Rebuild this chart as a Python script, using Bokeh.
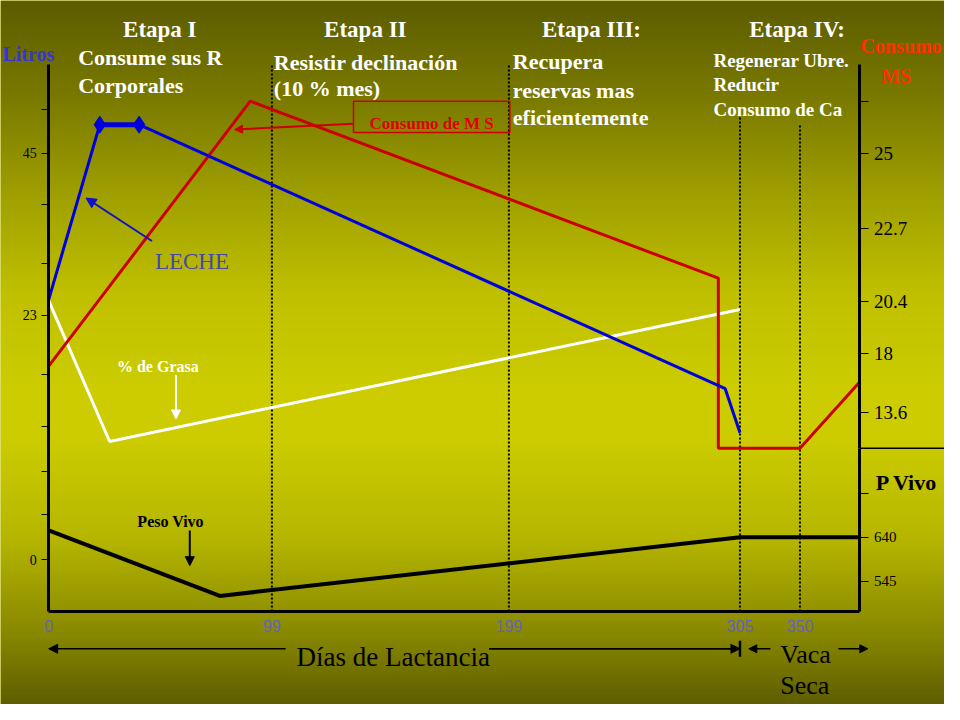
import numpy as np
from bokeh.plotting import figure
from bokeh.models import (Range1d, LinearAxis, FixedTicker, Label, Arrow,
                          NormalHead, TeeHead, BoxAnnotation)
from bokeh.embed import file_html
from bokeh.resources import INLINE

# ---------------- data (schematic units: x along lactation, y above day axis) ----
x_tick_pos = [0, 227, 468, 703, 764]
x_tick_labels = ["0", "99", "199", "305", "350"]

litros_tick_pos = [514, 469, 416, 356, 303, 242, 189, 143, 99, 53]
litros_tick_labels = ["", "45", "", "", "23", "", "", "", "", "0"]

ms_tick_pos = [522, 469, 392, 317, 264, 204]
ms_tick_labels = ["", "25", "22.7", "20.4", "18", "13.6"]

pv_tick_pos = [121, 76, 31]
pv_tick_labels = ["", "640", "545"]

leche_x = [0, 52, 92, 688, 703]
leche_y = [319, 498, 498, 228, 183]
pico_x = [52, 92]
pico_y = [498, 498]

ms_x = [0, 205, 681, 681, 764, 825]
ms_y = [251, 522, 341, 167, 167, 235]

grasa_x = [0, 62, 703]
grasa_y = [318, 174, 309]

pv_x = [0, 174, 703, 825]
pv_y = [83, 16, 76, 76]

etapa_x = [227, 468, 703, 764]
etapa_top = [560, 560, 507, 499]

X_END = 825
Y_TOP = 560
PV_SPLIT = 167

SERIF = "Liberation Serif"
WHITE = "#ffffff"

# ---------------- figure ----------------
W, H = 944, 704
X0, X1 = -49, 911
Y0, Y1 = -95, 625
p = figure(width=W, height=H, x_range=Range1d(X0, X1), y_range=Range1d(Y0, Y1),
           output_backend="svg", toolbar_location=None, min_border=0,
           outline_line_color=None, border_fill_color="#5c5c00",
           background_fill_color="#cccc00")
p.grid.visible = False

# background gradient (olive -> yellow -> olive)
stop_y = [0, 100, 200, 300, 400, 450, 550, 650, 720]
stop_v = [92, 122, 160, 192, 205, 204, 182, 135, 94]
NR = 720
rows = np.arange(NR)
ref_y = NR - rows - 0.5
val = np.interp(ref_y, stop_y, stop_v).astype(np.uint8)
img = np.empty((NR, 1), dtype=np.uint32)
view = img.view(dtype=np.uint8).reshape((NR, 1, 4))
view[:, 0, 0] = val
view[:, 0, 1] = val
view[:, 0, 2] = 0
view[:, 0, 3] = 255
p.image_rgba(image=[img], x=X0, y=Y0, dw=X1 - X0, dh=Y1 - Y0)

# ---------------- axes ----------------
xa = p.xaxis[0]
xa.fixed_location = 0
xa.bounds = (0, X_END)
xa.ticker = FixedTicker(ticks=x_tick_pos)
xa.major_label_overrides = dict(zip(x_tick_pos, x_tick_labels))
xa.major_tick_out = 0
xa.major_tick_in = 0
xa.minor_tick_out = 0
xa.minor_tick_in = 0
xa.axis_line_width = 3
xa.axis_line_color = "black"
xa.major_label_text_color = "#6262c6"
xa.major_label_text_font = "Liberation Sans"
xa.major_label_text_font_size = "16px"
xa.major_label_standoff = 8

ya = p.yaxis[0]
ya.fixed_location = 0
ya.bounds = (0, Y_TOP)
ya.ticker = FixedTicker(ticks=litros_tick_pos)
ya.major_label_overrides = dict(zip(litros_tick_pos, litros_tick_labels))
ya.major_tick_out = 7
ya.major_tick_in = 0
ya.minor_tick_out = 0
ya.minor_tick_in = 0
ya.major_tick_line_width = 1
ya.axis_line_width = 3
ya.axis_line_color = "black"
ya.major_label_text_color = "black"
ya.major_label_text_font = SERIF
ya.major_label_text_font_size = "14px"
ya.major_label_standoff = 5

ra = LinearAxis(fixed_location=X_END, bounds=(PV_SPLIT, Y_TOP),
                ticker=FixedTicker(ticks=ms_tick_pos),
                major_label_overrides=dict(zip(ms_tick_pos, ms_tick_labels)),
                major_tick_out=9, major_tick_in=0, minor_tick_out=0, minor_tick_in=0,
                major_tick_line_width=1.2, axis_line_width=3, axis_line_color="black",
                major_label_text_color="black", major_label_text_font=SERIF,
                major_label_text_font_size="19px", major_label_standoff=5)
p.add_layout(ra, "right")

rb = LinearAxis(fixed_location=X_END, bounds=(0, PV_SPLIT),
                ticker=FixedTicker(ticks=pv_tick_pos),
                major_label_overrides=dict(zip(pv_tick_pos, pv_tick_labels)),
                major_tick_out=9, major_tick_in=0, minor_tick_out=0, minor_tick_in=0,
                major_tick_line_width=1.2, axis_line_width=3, axis_line_color="black",
                major_label_text_color="black", major_label_text_font=SERIF,
                major_label_text_font_size="15px", major_label_standoff=5)
p.add_layout(rb, "right")

# separator between MS and P Vivo scales
p.segment(x0=[X_END], y0=[PV_SPLIT], x1=[X1 + 5], y1=[PV_SPLIT],
          line_color="black", line_width=1.5)

# ---------------- stage dividers ----------------
p.segment(x0=etapa_x, y0=[0] * len(etapa_x), x1=etapa_x, y1=etapa_top,
          line_color="black", line_width=2, line_dash="2 2")

# ---------------- series ----------------
p.line(grasa_x, grasa_y, line_color="white", line_width=3)
p.line(pv_x, pv_y, line_color="black", line_width=4)
p.line(ms_x, ms_y, line_color="#cc0000", line_width=3)
p.line(leche_x, leche_y, line_color="#0000dd", line_width=3)
p.line(pico_x, pico_y, line_color="#0000dd", line_width=5)
p.scatter(pico_x, pico_y, marker="diamond", size=17, fill_color="#0000dd",
          line_color="#0000dd")


# ---------------- texts ----------------
def lab(x, y, text, size, color, bold=True, align="left", font=SERIF):
    p.add_layout(Label(x=x, y=y, text=text, text_font=font,
                       text_font_size=f"{size}px",
                       text_font_style="bold" if bold else "normal",
                       text_color=color, text_align=align,
                       text_baseline="alphabetic"))


def arrow(x0, y0, x1, y1, color, width=2, size=10):
    p.add_layout(Arrow(end=NormalHead(size=size, fill_color=color, line_color=color),
                       x_start=x0, y_start=y0, x_end=x1, y_end=y1,
                       line_color=color, line_width=width))


for xc, t in zip([113, 322, 552, 761], ["Etapa I", "Etapa II", "Etapa III:", "Etapa IV:"]):
    lab(xc, 595, t, 23, WHITE, align="center")

lab(30, 567, "Consume sus R", 22, WHITE)
lab(30, 538, "Corporales", 22, WHITE)
lab(229, 562, "Resistir declinación", 22, WHITE)
lab(229, 535, "(10 % mes)", 22, WHITE)
lab(472, 563, "Recupera", 22, WHITE)
lab(472, 533, "reservas mas", 22, WHITE)
lab(472, 505, "eficientemente", 22, WHITE)
lab(676, 564, "Regenerar Ubre.", 19, WHITE)
lab(676, 539, "Reducir", 19, WHITE)
lab(676, 514, "Consumo de Ca", 19, WHITE)

lab(-47, 570, "Litros", 20, "#3535d8")
lab(908, 578, "Consumo", 20, "#ff3000", align="right")
lab(862, 548, "MS", 20, "#ff3000", align="center")

p.add_layout(BoxAnnotation(left=310, right=469, bottom=490, top=522,
                           fill_color=None, fill_alpha=0, line_color="#cc0000",
                           line_alpha=1.0, line_width=1.5))
lab(389.5, 499.5, "Consumo de M S", 17, "#e00000", align="center")
arrow(310, 499, 189, 493, "#cc0000", width=2, size=8)

lab(108, 358, "LECHE", 23, "#4848a8", bold=False)
arrow(105, 379, 38, 423, "#1010cc", width=2, size=10)

lab(111, 251, "% de Grasa", 16, WHITE, align="center")
arrow(129.5, 242, 129.5, 197, WHITE, width=2, size=9)

lab(124, 92, "Peso Vivo", 16, "black", align="center")
arrow(143.5, 83, 143.5, 47, "black", width=2, size=9)

lab(841, 132, "P Vivo", 22, "black")

# bottom: days of lactation / dry cow
lab(252, -46, "Días de Lactancia", 27, "black", bold=False)
arrow(241, -38, 0, -38, "black", width=1.5, size=9)
arrow(448, -38, 703, -38, "black", width=1.5, size=9)
p.add_layout(Arrow(end=TeeHead(size=16, line_width=2.5, line_color="black"),
                   x_start=448, y_start=-38, x_end=703, y_end=-38,
                   line_color="black", line_width=1.5))
lab(744, -44, "Vaca", 26, "black", bold=False)
lab(744, -76, "Seca", 26, "black", bold=False)
arrow(734, -38, 712, -38, "black", width=1.5, size=8)
arrow(803, -38, 833, -38, "black", width=1.5, size=8)

open("out.html", "w").write(file_html(p, INLINE, title="Etapas de la lactancia"))
